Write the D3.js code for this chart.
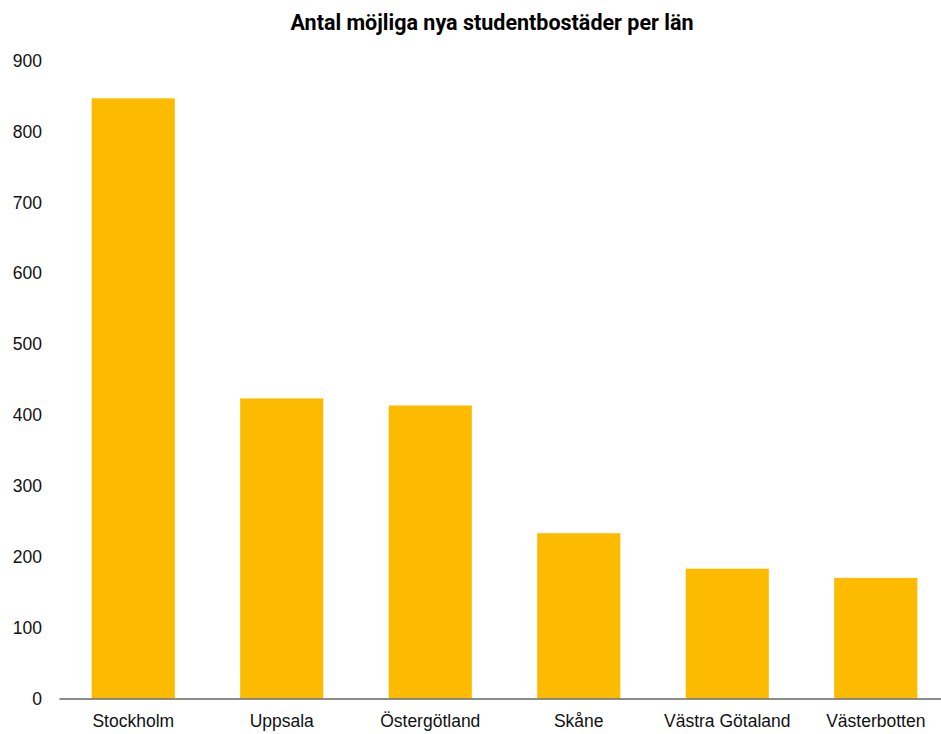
<!DOCTYPE html>
<html>
<head>
<meta charset="utf-8">
<script src="https://cdn.jsdelivr.net/npm/d3@7"></script>
<style>
    body { margin: 0; background: #fff; }
    svg { display: block; font-family: Roboto, "DejaVu Sans", sans-serif; }
    .title { font-weight: 700; font-size: 21.5px; fill: #000; }
    .tick text { font-size: 17.5px; fill: #111; }
</style>
</head>
<body>
<div id="chart"></div>
<script>
const regions = ['Stockholm', 'Uppsala', 'Östergötland', 'Skåne', 'Västra Götaland', 'Västerbotten'];
const homes = [846, 423, 413, 233, 183, 170];
const yTicks = [0, 100, 200, 300, 400, 500, 600, 700, 800, 900];

const width = 941, height = 734;

const svg = d3.select('#chart').append('svg')
    .attr('width', width)
    .attr('height', height);

const x = d3.scaleBand()
    .domain(regions)
    .range([59, 950])
    .paddingInner(0.44)
    .paddingOuter(0.22);

const y = d3.scaleLinear()
    .domain([0, 900])
    .range([698.5, 60]);

svg.append('text')
    .attr('class', 'title')
    .attr('x', 492)
    .attr('y', 30)
    .attr('text-anchor', 'middle')
    .text('Antal möjliga nya studentbostäder per län');

// y axis: labels only
const yAxis = svg.append('g')
    .attr('transform', 'translate(42, 0)')
    .call(d3.axisLeft(y).tickValues(yTicks).tickSize(0).tickPadding(0));
yAxis.select('.domain').remove();
yAxis.selectAll('.tick text').attr('dy', '0.35em');

svg.append('g')
    .selectAll('rect')
    .data(homes).enter()
    .append('rect')
    .attr('x', (d, i) => x(regions[i]))
    .attr('y', d => y(d))
    .attr('width', x.bandwidth())
    .attr('height', d => y(0) - y(d))
    .attr('fill', '#FDBB00');

const xAxis = svg.append('g')
    .attr('transform', `translate(0, ${y(0)})`)
    .call(d3.axisBottom(x).tickSize(0).tickPadding(16));
xAxis.select('.domain')
    .attr('stroke', '#666')
    .attr('stroke-width', 1.5);
xAxis.selectAll('.tick text').attr('dy', '0.71em');
</script>
</body>
</html>
